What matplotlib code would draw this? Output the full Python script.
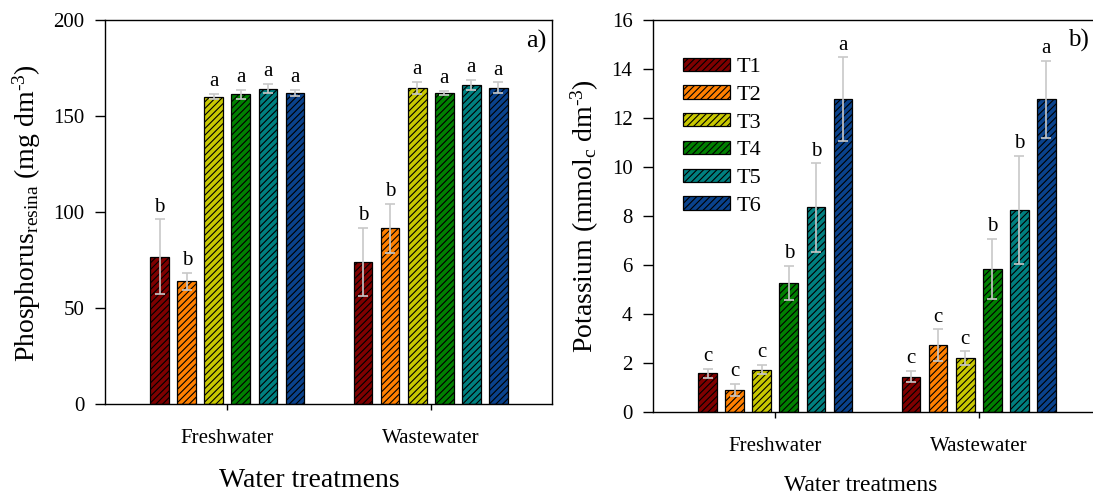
import numpy as np
import matplotlib
matplotlib.use('Agg')
import matplotlib.pyplot as plt

plt.rcParams['font.family'] = ['Liberation Serif', 'DejaVu Serif']
plt.rcParams['mathtext.fontset'] = 'custom'
plt.rcParams['mathtext.rm'] = 'Liberation Serif'
plt.rcParams['mathtext.it'] = 'Liberation Serif:italic'
plt.rcParams['hatch.linewidth'] = 0.8

groups = ['Freshwater', 'Wastewater']
treatments = ['T1', 'T2', 'T3', 'T4', 'T5', 'T6']
colors = ['#7f0000', '#ff8000', '#c8c800', '#008000', '#008080', '#0a428c']

# phosphorus (mg dm-3), rows = groups, cols = treatments
p_mean = [[76.9, 64.0, 160.1, 161.3, 164.2, 162.1],
          [74.2, 91.6, 164.7, 162.1, 166.1, 164.7]]
p_err = [[19.3, 4.4, 1.4, 2.4, 2.4, 1.5],
         [17.7, 12.6, 3.0, 1.2, 2.7, 2.8]]
p_letters = [['b', 'b', 'a', 'a', 'a', 'a'],
             ['b', 'b', 'a', 'a', 'a', 'a']]

# potassium (mmolc dm-3)
k_mean = [[1.58, 0.90, 1.73, 5.26, 8.35, 12.76],
          [1.44, 2.72, 2.19, 5.84, 8.25, 12.76]]
k_err = [[0.18, 0.25, 0.18, 0.69, 1.80, 1.71],
         [0.23, 0.65, 0.28, 1.22, 2.20, 1.58]]
k_letters = [['c', 'c', 'c', 'b', 'b', 'a'],
             ['c', 'c', 'c', 'b', 'b', 'a']]

W, H = 1093, 498
fig = plt.figure(figsize=(W / 100, H / 100), dpi=100)
ax1 = fig.add_axes([105.3 / W, 1 - 404.3 / H, 447 / W, 384.3 / H])
ax2 = fig.add_axes([653.3 / W, 1 - 412 / H, 447 / W, 392 / H])

step = 0.133
width = 0.092
x = np.arange(len(groups))


def draw(ax, mean, err, letters, ylim, yticks):
    mean = np.array(mean)
    err = np.array(err)
    for i, t in enumerate(treatments):
        pos = x + (i - 2.5) * step
        ax.bar(pos, mean[:, i], width, color=colors[i], edgecolor='black',
               linewidth=0.9, hatch='/////', label=t, zorder=2)
        ax.errorbar(pos, mean[:, i], yerr=err[:, i], fmt='none',
                    ecolor='#c8c8c8', elinewidth=1.2, capsize=3.8,
                    capthick=1.2, zorder=3)
        for g in range(len(groups)):
            ax.annotate(letters[g][i], (pos[g], mean[g, i] + err[g, i]),
                        xytext=(0, 2), textcoords='offset points',
                        ha='center', va='bottom', fontsize=15)
    ax.set_xlim(-0.60, 1.598)
    ax.set_ylim(*ylim)
    ax.set_yticks(yticks)
    ax.set_xticks(x)
    ax.set_xticklabels(groups, fontsize=15)
    ax.tick_params(axis='y', direction='out', length=7, width=1,
                   labelsize=15, pad=8)
    ax.tick_params(axis='x', direction='out', length=4, width=1, pad=14)
    for s in ax.spines.values():
        s.set_linewidth(1)


draw(ax1, p_mean, p_err, p_letters, (0, 200), np.arange(0, 201, 50))
draw(ax2, k_mean, k_err, k_letters, (0, 16), np.arange(0, 17, 2))
ax2.spines['right'].set_visible(False)

ax1.text(0.987, 0.943, 'a)', transform=ax1.transAxes, ha='right',
         va='center', fontsize=19)
fig.text(1089 / W, 1 - 40 / H, 'b)', ha='right', va='center', fontsize=18)

fig.text(27 / W, 1 - 213 / H,
         r'Phosphorus$_{\mathrm{resina}}$ (mg dm$^{\text{-3}}$)',
         rotation=90, ha='center', va='center', fontsize=20)
fig.text(585 / W, 1 - 216 / H,
         r'Potassium (mmol$_{\mathrm{c}}$ dm$^{\text{-3}}$)',
         rotation=90, ha='center', va='center', fontsize=20)
fig.text(309 / W, 1 - 480 / H, 'Water treatmens', ha='center',
         va='center', fontsize=20)
fig.text(861 / W, 1 - 485 / H, 'Water treatmens', ha='center',
         va='center', fontsize=17)

ax2.legend(loc='upper left', bbox_to_anchor=(0.047, 0.927), frameon=False,
           fontsize=16, handlelength=2.1, handleheight=0.55,
           labelspacing=0.37, handletextpad=0.3, borderaxespad=0)

fig.savefig('out.png', dpi=100)
